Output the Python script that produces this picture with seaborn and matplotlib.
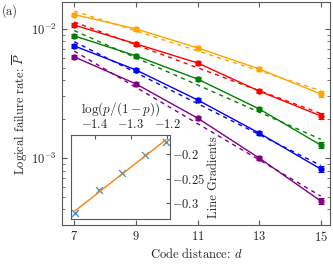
import numpy as np
import matplotlib
matplotlib.use("Agg")
import matplotlib.pyplot as plt
import seaborn as sns
from matplotlib.ticker import LogLocator, NullFormatter, FixedLocator

sns.set_style("ticks")
plt.rcParams['font.family'] = ['cmr10', 'DejaVu Serif']
plt.rcParams['mathtext.fontset'] = 'cm'
plt.rcParams['axes.formatter.use_mathtext'] = True
plt.rcParams['axes.unicode_minus'] = True

# ---- data ----
distances = [7, 9, 11, 13, 15]
series_colors = ['#FFA500', '#FF0000', '#008000', '#0000FF', '#800080']
rate_orange = [1.29e-2, 1.00e-2, 7.13e-3, 4.90e-3, 3.13e-3]
rate_red    = [1.07e-2, 7.66e-3, 5.45e-3, 3.30e-3, 2.12e-3]
rate_green  = [8.83e-3, 6.18e-3, 4.09e-3, 2.40e-3, 1.26e-3]
rate_blue   = [7.38e-3, 4.81e-3, 2.82e-3, 1.56e-3, 8.22e-4]
rate_purple = [6.07e-3, 3.75e-3, 2.04e-3, 1.00e-3, 4.65e-4]
rel_err = [0.03, 0.03, 0.035, 0.04, 0.05]

log_odds = [-1.456, -1.389, -1.325, -1.261, -1.203]
gradients = [-0.3206, -0.2734, -0.2394, -0.2014, -0.1754]

all_rates = [rate_orange, rate_red, rate_green, rate_blue, rate_purple]

fig = plt.figure(figsize=(3.33, 2.67), dpi=100)
ax = fig.add_axes([0.186, 0.157, 0.805, 0.836])

d = np.array(distances, dtype=float)
for rates, col in zip(all_rates, series_colors):
    r = np.array(rates)
    sns.lineplot(x=distances, y=rates, ax=ax, color=col, lw=1.0)
    ax.errorbar(distances, rates, yerr=r * np.array(rel_err), fmt='o', ms=3.5,
                color=col, ecolor=col, elinewidth=0.8, capsize=2, capthick=0.8)
    k, b = np.polyfit(d, np.log10(r), 1)
    ends = np.array([d[0], d[-1]])
    ax.plot(ends, 10 ** (k * ends + b), color=col, lw=1.0, ls=(0, (3, 3)))

ax.set_yscale('log')
ax.set_xlim(6.6, 15.3)
ax.set_ylim(10 ** -3.519, 10 ** -1.791)
ax.set_xticks(distances)
ax.yaxis.set_major_locator(FixedLocator([1e-3, 1e-2]))
ax.yaxis.set_minor_locator(LogLocator(base=10, subs=np.arange(2, 10)))
ax.yaxis.set_minor_formatter(NullFormatter())
ax.tick_params(which='both', direction='in', top=True, right=True,
               labelsize=9, color='0.35')
ax.tick_params(which='major', length=3.5)
ax.tick_params(which='minor', length=2)
for s in ax.spines.values():
    s.set_color('0.35')
    s.set_linewidth(0.8)
ax.set_xlabel('Code distance: $d$', fontsize=9, labelpad=2)
ax.set_ylabel(r'Logical failure rate: $\overline{P}$', fontsize=9, labelpad=1)
fig.text(0.005, 0.985, '(a)', fontsize=9, va='top', ha='left')

# ---- inset ----
ins = fig.add_axes([0.213, 0.180, 0.298, 0.314])
sns.regplot(x=log_odds, y=gradients, ax=ins, ci=None, marker='x',
            scatter_kws=dict(color='#1f77b4', s=24, linewidths=1.0),
            line_kws=dict(color='#ff7f0e', lw=1.0))
ins.set_xlim(-1.4667, -1.1917)
ins.set_ylim(-0.332, -0.162)
ins.xaxis.tick_top()
ins.xaxis.set_label_position('top')
ins.yaxis.tick_right()
ins.yaxis.set_label_position('right')
ins.set_xticks([-1.4, -1.3, -1.2])
ins.set_yticks([-0.3, -0.25, -0.2])
ins.set_xticklabels([r'$-1.4$', r'$-1.3$', r'$-1.2$'])
ins.set_yticklabels([r'$-0.3$', r'$-0.25$', r'$-0.2$'])
ins.tick_params(axis='x', direction='in', labelsize=9, length=3, color='0.35', pad=3)
ins.tick_params(axis='y', direction='in', labelsize=9, length=3, color='0.35', pad=1.5)
ins.set_xlabel(r'$\log(p/(1-p))$', fontsize=9.5, labelpad=3.5)
ins.set_ylabel('Line Gradients', fontsize=9, labelpad=2)
ins.set_facecolor('white')
for s in ins.spines.values():
    s.set_color('0.35')
    s.set_linewidth(0.8)

fig.savefig('out.png', dpi=100)
